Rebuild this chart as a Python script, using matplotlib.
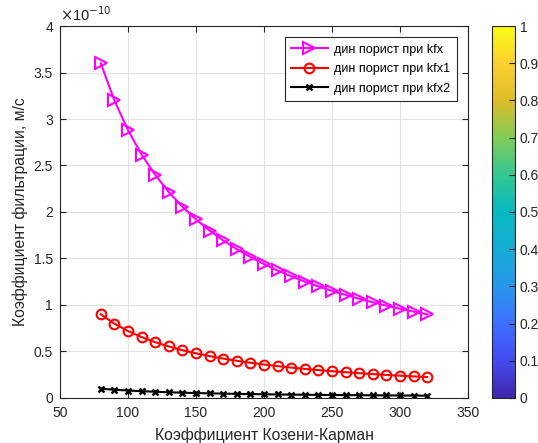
import numpy as np
import matplotlib
matplotlib.use('Agg')
import matplotlib.pyplot as plt
from matplotlib.colors import LinearSegmentedColormap
from matplotlib.cm import ScalarMappable
from matplotlib.colors import Normalize

plt.rcParams['font.family'] = ['Liberation Sans', 'DejaVu Sans']

# Kozeny-Carman coefficient
x_kc = [80, 90, 100, 110, 120, 130, 140, 150, 160, 170, 180, 190, 200,
        210, 220, 230, 240, 250, 260, 270, 280, 290, 300, 310, 320]

# filtration coefficient, units of 1e-10 m/s
kfx = [3.60, 3.20, 2.88, 2.618, 2.40, 2.215, 2.057, 1.92, 1.80, 1.694, 1.60,
       1.516, 1.44, 1.371, 1.309, 1.252, 1.20, 1.152, 1.108, 1.067, 1.029,
       0.993, 0.96, 0.929, 0.90]
kfx1 = [0.90, 0.80, 0.72, 0.655, 0.60, 0.554, 0.514, 0.48, 0.45, 0.424, 0.40,
        0.379, 0.36, 0.343, 0.327, 0.313, 0.30, 0.288, 0.277, 0.267, 0.257,
        0.248, 0.24, 0.232, 0.225]
kfx2 = [0.100, 0.089, 0.080, 0.073, 0.067, 0.062, 0.057, 0.053, 0.050, 0.047,
        0.044, 0.042, 0.040, 0.038, 0.036, 0.035, 0.033, 0.032, 0.031, 0.030,
        0.029, 0.028, 0.027, 0.026, 0.025]

labels = ['дин порист при kfx', 'дин порист при kfx1', 'дин порист при kfx2']

parula_pts = [(0.2422, 0.1504, 0.6603), (0.2691, 0.2920, 0.9401),
              (0.2440, 0.4358, 0.9988), (0.1540, 0.5902, 0.9218),
              (0.0805, 0.6734, 0.8342), (0.0265, 0.7248, 0.7529),
              (0.2004, 0.7789, 0.5703), (0.5044, 0.7993, 0.3480),
              (0.8634, 0.7406, 0.1596), (0.9892, 0.8136, 0.1885),
              (0.9769, 0.9839, 0.0805)]
parula = LinearSegmentedColormap.from_list('parula', parula_pts)

axc = '#262626'
fig = plt.figure(figsize=(5.38, 4.43), dpi=100)
ax = fig.add_axes([0.1115, 0.1016, 0.7585, 0.8397])

ax.plot(x_kc, kfx, color='#ff00ff', marker='>', markersize=8, mfc='none',
        mew=1.5, lw=1.5, label=labels[0])
ax.plot(x_kc, kfx1, color='#ff0000', marker='o', markersize=7, mfc='none',
        mew=1.5, lw=1.5, label=labels[1])
ax.plot(x_kc, kfx2, color='black', marker='x', markersize=4.5,
        mew=1.8, lw=1.5, label=labels[2])

ax.set_xlim(50, 350)
ax.set_ylim(0, 4)
ax.set_xticks(np.arange(50, 351, 50))
ax.set_yticks(np.arange(0, 4.01, 0.5))
ax.set_yticklabels(['0', '0.5', '1', '1.5', '2', '2.5', '3', '3.5', '4'])
ax.grid(True, color='#e3e3e3', lw=0.8)
ax.set_axisbelow(True)
ax.tick_params(direction='in', top=True, right=True, length=4,
               labelsize=10, colors=axc, labelcolor=axc, width=0.8)
ax.tick_params(axis='x', pad=6)
ax.tick_params(axis='y', pad=5)
for s in ax.spines.values():
    s.set_color(axc)
    s.set_linewidth(0.8)

ax.set_xlabel('Коэффициент Козени-Карман', fontsize=11.3, color=axc, labelpad=5)
ax.set_ylabel('Коэффициент фильтрации, м/с', fontsize=11.3, color=axc)
ax.text(0.0, 1.005, r'$\times$10$^{-10}$', transform=ax.transAxes,
        fontsize=10.5, color=axc, ha='left', va='bottom')

leg = ax.legend(loc='upper right', fontsize=9.1, fancybox=False,
                edgecolor=axc, framealpha=1, handlelength=2.9,
                borderaxespad=0.9, labelspacing=0.6, borderpad=0.5,
                handletextpad=0.5)
leg.get_frame().set_linewidth(0.8)

cax = fig.add_axes([0.9145, 0.1016, 0.0428, 0.8397])
sm = ScalarMappable(norm=Normalize(0, 1), cmap=parula)
cb = fig.colorbar(sm, cax=cax, ticks=np.arange(0, 1.01, 0.1))
cb.ax.set_yticklabels(['0', '0.1', '0.2', '0.3', '0.4', '0.5', '0.6',
                       '0.7', '0.8', '0.9', '1'])
cb.ax.tick_params(direction='in', length=4, labelsize=10, colors=axc,
                  labelcolor=axc, width=0.8)
cb.outline.set_edgecolor(axc)
cb.outline.set_linewidth(0.8)

fig.savefig('out.png', dpi=100)
